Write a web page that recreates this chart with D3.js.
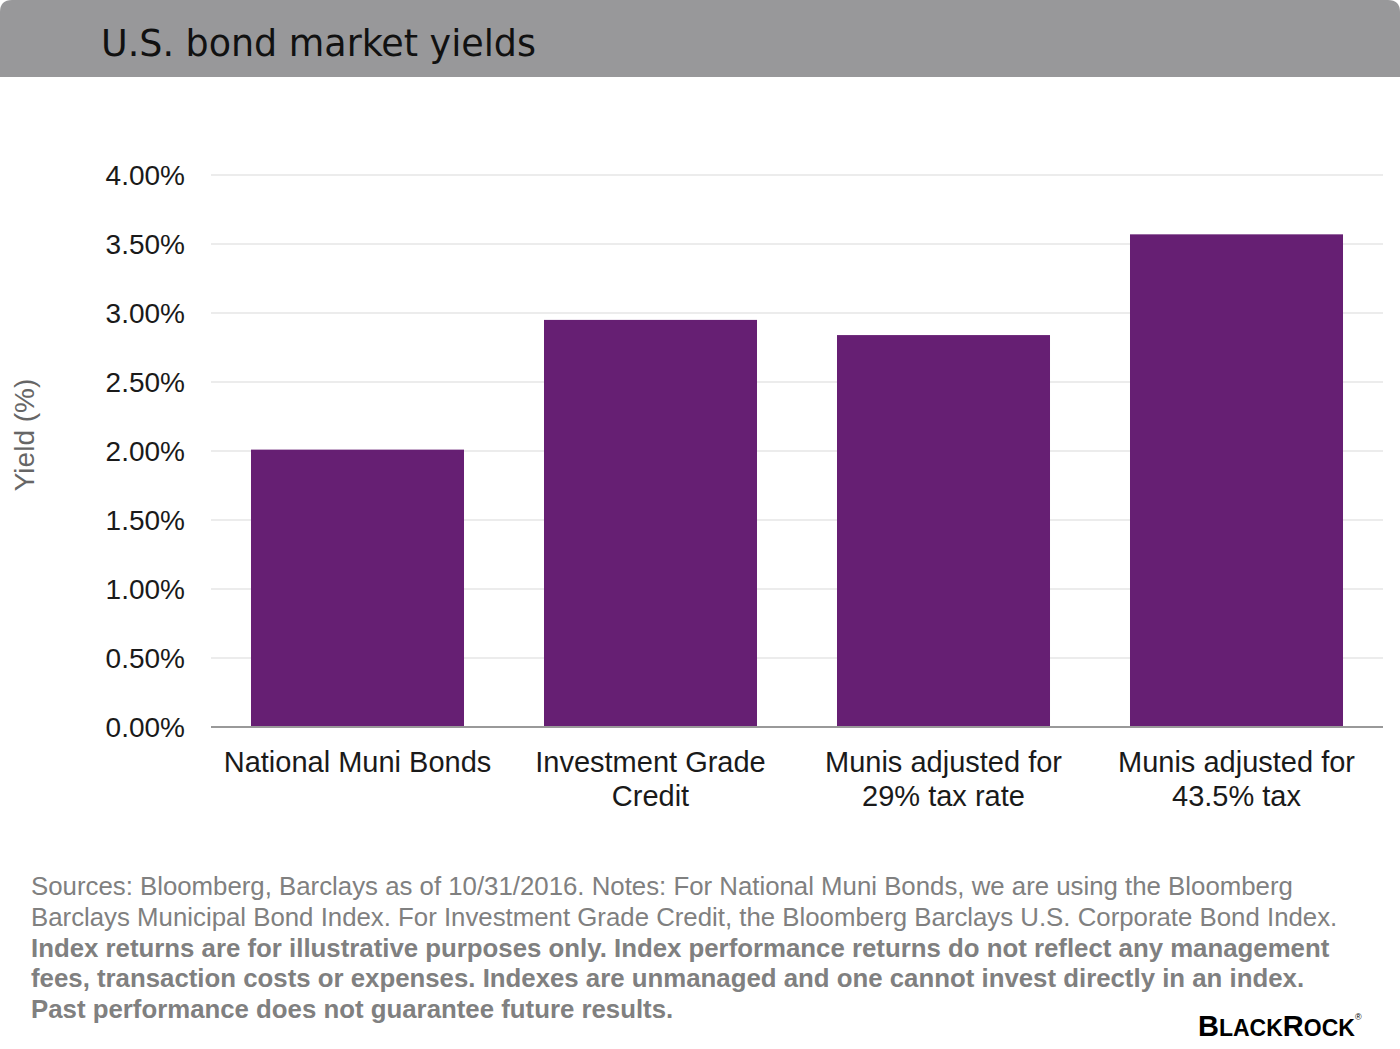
<!doctype html>
<html>
<meta charset="utf-8">
<head>
<script src="https://cdn.jsdelivr.net/npm/d3@7"></script>
<style>
  body { margin: 0; background: #fff; }
  text { font-family: "Liberation Sans", Arial, sans-serif; }
</style>
</head>
<body>
<script>
  // chart data
  var categories = ["National Muni Bonds", "Investment Grade Credit", "Munis adjusted for 29% tax rate", "Munis adjusted for 43.5% tax"];
  var labelLines = [["National Muni Bonds"], ["Investment Grade", "Credit"], ["Munis adjusted for", "29% tax rate"], ["Munis adjusted for", "43.5% tax"]];
  var yields = [2.01, 2.95, 2.84, 3.57];
  var yTicks = [0, 0.5, 1, 1.5, 2, 2.5, 3, 3.5, 4];
  var footLines = [
    "Sources: Bloomberg, Barclays as of 10/31/2016. Notes: For National Muni Bonds, we are using the Bloomberg",
    "Barclays Municipal Bond Index. For Investment Grade Credit, the Bloomberg Barclays U.S. Corporate Bond Index.",
    "Index returns are for illustrative purposes only. Index performance returns do not reflect any management",
    "fees, transaction costs or expenses. Indexes are unmanaged and one cannot invest directly in an index.",
    "Past performance does not guarantee future results."
  ];
  var footBold = [false, false, true, true, true];

  var width = 1400, height = 1049;
  var plotLeft = 211, plotRight = 1383, plotTop = 175, plotBottom = 727;

  var svg = d3.select("body").append("svg")
    .attr("width", width)
    .attr("height", height);

  // header band
  svg.append("path")
    .attr("d", "M0,77 L0,12 Q0,0 12,0 L1388,0 Q1400,0 1400,12 L1400,77 Z")
    .attr("fill", "#98989a");

  svg.append("text")
    .attr("x", 101)
    .attr("y", 56)
    .style("font-family", "'Liberation Sans Narrow', 'DejaVu Sans Condensed', sans-serif")
    .style("font-size", "38px")
    .attr("textLength", 435)
    .attr("lengthAdjust", "spacingAndGlyphs")
    .attr("fill", "#111")
    .text("U.S. bond market yields");

  var x = d3.scaleBand()
    .domain(categories)
    .range([plotLeft, plotRight])
    .paddingInner(0.273)
    .paddingOuter(0.1365);

  var y = d3.scaleLinear()
    .domain([0, 4])
    .range([plotBottom, plotTop]);

  // gridlines
  svg.append("g")
    .selectAll("line")
    .data(yTicks.filter(function(d) { return d > 0; }))
    .enter().append("line")
    .attr("x1", plotLeft)
    .attr("x2", plotRight)
    .attr("y1", function(d) { return y(d); })
    .attr("y2", function(d) { return y(d); })
    .attr("stroke", "#ececec")
    .attr("stroke-width", 2);

  // y tick labels
  svg.append("g")
    .selectAll("text")
    .data(yTicks)
    .enter().append("text")
    .attr("x", 185)
    .attr("y", function(d) { return y(d) + 10; })
    .attr("text-anchor", "end")
    .style("font-size", "28px")
    .attr("fill", "#1a1a1a")
    .text(function(d) { return d3.format(".2f")(d) + "%"; });

  svg.append("text")
    .attr("transform", "translate(34,435) rotate(-90)")
    .attr("text-anchor", "middle")
    .style("font-size", "28px")
    .attr("fill", "#666")
    .text("Yield (%)");

  // bars
  svg.append("g")
    .selectAll("rect")
    .data(yields)
    .enter().append("rect")
    .attr("x", function(d, i) { return x(categories[i]); })
    .attr("y", function(d) { return y(d); })
    .attr("width", x.bandwidth())
    .attr("height", function(d) { return plotBottom - y(d); })
    .attr("fill", "#661f73");

  // baseline
  svg.append("line")
    .attr("x1", plotLeft)
    .attr("x2", plotRight)
    .attr("y1", plotBottom)
    .attr("y2", plotBottom)
    .attr("stroke", "#999")
    .attr("stroke-width", 2);

  // category labels
  var cat = svg.append("g")
    .selectAll("text")
    .data(labelLines)
    .enter().append("text")
    .attr("text-anchor", "middle")
    .style("font-size", "29px")
    .attr("fill", "#1a1a1a");

  cat.selectAll("tspan")
    .data(function(d, i) { return d.map(function(l) { return {t: l, i: i}; }); })
    .enter().append("tspan")
    .attr("x", function(d) { return x(categories[d.i]) + x.bandwidth() / 2; })
    .attr("y", function(d, j) { return 772 + j * 34; })
    .text(function(d) { return d.t; });

  // footnote
  svg.append("g")
    .selectAll("text")
    .data(footLines)
    .enter().append("text")
    .attr("x", 31)
    .attr("y", function(d, i) { return 895 + i * 30.8; })
    .style("font-size", "25.8px")
    .style("font-weight", function(d, i) { return footBold[i] ? "bold" : "normal"; })
    .attr("fill", "#808080")
    .text(function(d) { return d; });

  // logo
  var logo = svg.append("text")
    .attr("x", 1198)
    .attr("y", 1036)
    .style("font-weight", "bold")
    .attr("fill", "#000");
  logo.append("tspan").style("font-size", "29px").text("B");
  logo.append("tspan").style("font-size", "23px").text("LACK");
  logo.append("tspan").style("font-size", "29px").text("R");
  logo.append("tspan").style("font-size", "23px").text("OCK");
  logo.append("tspan").style("font-size", "9px").style("font-weight", "normal").attr("dy", -16).text("®");
</script>
</body>
</html>
